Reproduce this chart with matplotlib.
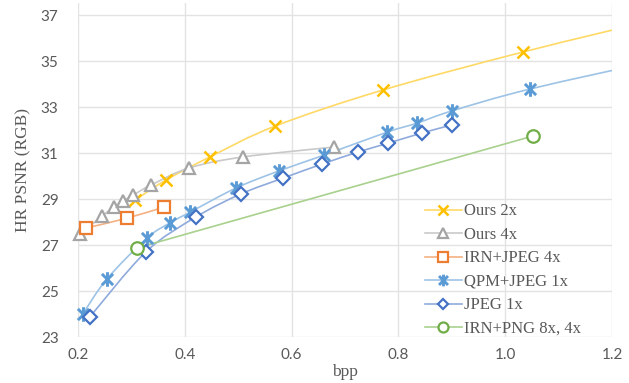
import matplotlib
matplotlib.use("Agg")
import matplotlib.pyplot as plt
import numpy as np
from matplotlib.path import Path
from matplotlib.patches import PathPatch
from matplotlib.lines import Line2D

# values (bpp, HR PSNR)
ours2x_bpp = [0.307, 0.365, 0.447, 0.569, 0.771, 1.033, 1.30]
ours2x_psnr = [28.96, 29.83, 30.83, 32.17, 33.74, 35.39, 36.90]

ours4x_bpp = [0.204, 0.245, 0.267, 0.284, 0.303, 0.337, 0.408, 0.509, 0.679]
ours4x_psnr = [27.48, 28.26, 28.65, 28.91, 29.17, 29.61, 30.35, 30.83, 31.26]

irnjpeg_bpp = [0.215, 0.292, 0.361]
irnjpeg_psnr = [27.74, 28.17, 28.65]

qpm_bpp = [0.209, 0.254, 0.329, 0.372, 0.410, 0.496, 0.576, 0.661, 0.779, 0.835, 0.900, 1.046, 1.30]
qpm_psnr = [24.00, 25.52, 27.30, 27.96, 28.43, 29.48, 30.22, 30.91, 31.91, 32.30, 32.83, 33.78, 35.10]

jpeg_bpp = [0.222, 0.327, 0.421, 0.505, 0.584, 0.657, 0.724, 0.781, 0.844, 0.900]
jpeg_psnr = [23.87, 26.70, 28.22, 29.22, 29.91, 30.52, 31.04, 31.43, 31.87, 32.22]

irnpng_bpp = [0.310, 1.052]
irnpng_psnr = [26.87, 31.74]

labels = ["Ours 2x", "Ours 4x", "IRN+JPEG 4x", "QPM+JPEG 1x", "JPEG 1x", "IRN+PNG 8x, 4x"]

XMAX = 1.2

# Excel-ish asterisk: X plus a vertical bar
star = Path([(-1, -1), (1, 1), (-1, 1), (1, -1), (0, -1.3), (0, 1.3)],
            [Path.MOVETO, Path.LINETO] * 3)

series = [
    (ours2x_bpp, ours2x_psnr, "#FFC000", "#FFD966", "x", 9, 1.8, True),
    (ours4x_bpp, ours4x_psnr, "#A5A5A5", "#C9C9C9", "^", 8.5, 1.6, False),
    (irnjpeg_bpp, irnjpeg_psnr, "#ED7D31", "#F4B183", "s", 9, 1.6, False),
    (qpm_bpp, qpm_psnr, "#5B9BD5", "#9DC3E6", star, 10.5, 2.1, True),
    (jpeg_bpp, jpeg_psnr, "#4472C4", "#8FAADC", "D", 7, 1.6, False),
    (irnpng_bpp, irnpng_psnr, "#70AD47", "#A9D18E", "o", 9, 1.6, False),
]


def smooth_path(xs, ys):
    """Catmull-Rom style bezier, like Excel's smoothed line."""
    pts = np.column_stack([xs, ys])
    n = len(pts)
    verts = [pts[0]]
    codes = [Path.MOVETO]
    for i in range(n - 1):
        p0 = pts[max(i - 1, 0)]
        p1 = pts[i]
        p2 = pts[i + 1]
        p3 = pts[min(i + 2, n - 1)]
        verts += [p1 + (p2 - p0) / 6, p2 - (p3 - p1) / 6, p2]
        codes += [Path.CURVE4] * 3
    return Path(verts, codes)


plt.rcParams["font.family"] = "Liberation Serif"

fig = plt.figure(figsize=(6.29, 3.83), dpi=100)
ax = fig.add_axes([0.124, 0.120, 0.849, 0.872])

handles = []
for (xs, ys, mc, lc, mk, ms, mew, filled), lab in zip(series, labels):
    ax.add_patch(PathPatch(smooth_path(xs, ys), facecolor="none",
                           edgecolor=lc, lw=1.2, zorder=2))
    x = np.asarray(xs)
    y = np.asarray(ys)
    keep = x <= XMAX
    fc = mc if filled else "white"
    ax.plot(x[keep], y[keep], linestyle="none", marker=mk, ms=ms, mew=mew,
            mec=mc, mfc=fc, zorder=3, clip_on=False)
    handles.append(Line2D([], [], color=lc, lw=1.2, marker=mk, ms=ms * 0.8,
                          mew=mew, mec=mc, mfc=fc))

ax.set_xlim(0.2, XMAX)
ax.set_ylim(23, 37.52)
ax.set_xticks(np.arange(0.2, 1.21, 0.2))
ax.set_xticklabels([f"{v:.1f}" for v in np.arange(0.2, 1.21, 0.2)])
ax.set_yticks(np.arange(23, 38, 2))
ax.grid(True, color="#E3E3E3", lw=1.0, zorder=0)
ax.set_axisbelow(True)
for s in ax.spines.values():
    s.set_visible(False)
ax.tick_params(length=0, labelsize=11, labelcolor="#595959")
for t in ax.get_xticklabels() + ax.get_yticklabels():
    t.set_fontfamily("Lato")
ax.tick_params(axis="y", pad=14)
ax.tick_params(axis="x", pad=8)

ax.set_xlabel("bpp", fontsize=12.5, color="#595959", labelpad=1)
ax.set_ylabel("HR PSNR (RGB)", fontsize=12.5, color="#595959", labelpad=7)

ax.legend(handles, labels, loc="upper left", bbox_to_anchor=(0.652, 0.508),
          bbox_transform=fig.transFigure, frameon=False, fontsize=12,
          handlelength=2.2, handletextpad=0.15, labelspacing=0.45,
          labelcolor="#595959")

fig.savefig("out.png", dpi=100)
